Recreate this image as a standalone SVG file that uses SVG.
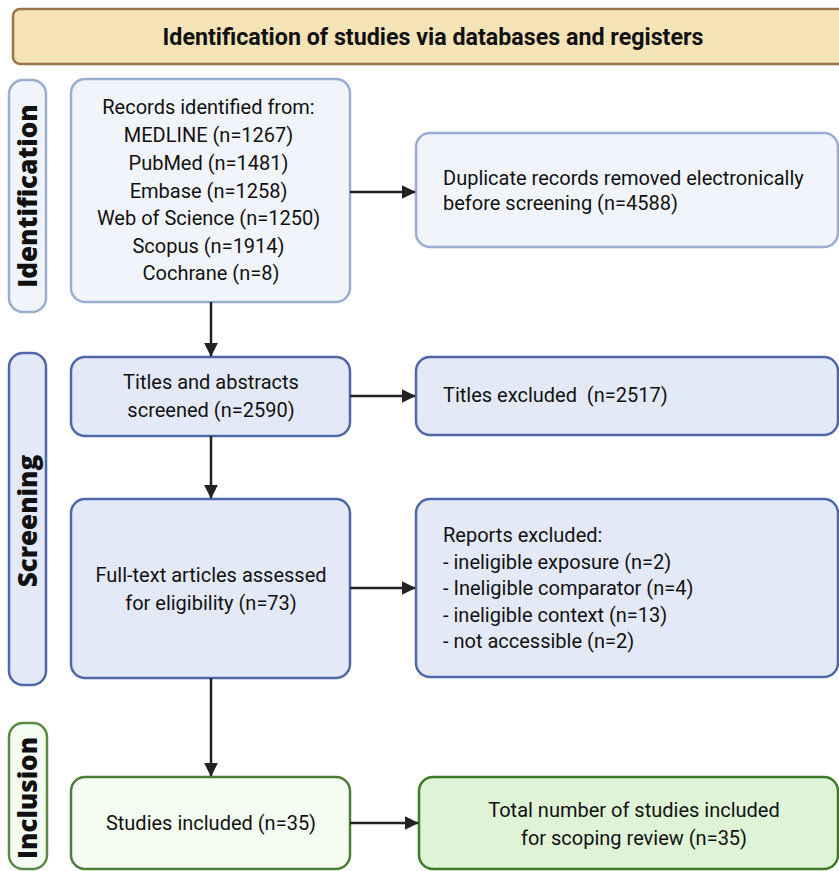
<svg xmlns="http://www.w3.org/2000/svg" width="839" height="871" viewBox="0 0 839 871">
<defs>
<marker id="ah" viewBox="0 0 10 10" refX="9.5" refY="5" markerWidth="5.5" markerHeight="5.5" orient="auto" markerUnits="strokeWidth">
<path d="M0,0 L10,5 L0,10 z" fill="#222"/>
</marker>
<style>
.t{font-family:Roboto,"Liberation Sans",sans-serif;font-size:20px;fill:#111}
.side{font-family:"Open Sans","Liberation Sans",sans-serif;font-weight:800;font-size:26px;fill:#111}
.idb{fill:#f1f5fb;stroke:#9aadd0;stroke-width:2.5}
.scb{fill:#e4e9f8;stroke:#5067aa;stroke-width:2.5}
.inl{fill:#f5fcf1;stroke:#5a8a45;stroke-width:2.5}
.con{stroke:#222;stroke-width:2.5;fill:none;marker-end:url(#ah)}
</style>
</defs>
<rect width="839" height="871" fill="#fff"/>
<g id="header">
<rect x="13" y="9" width="840" height="55" rx="7" fill="#f4e3b7" stroke="#9b7447" stroke-width="2.5"/>
<text x="433" y="45" text-anchor="middle" font-family="Roboto,'Liberation Sans',sans-serif" font-weight="bold" font-size="23" fill="#111" textLength="541" lengthAdjust="spacingAndGlyphs">Identification of studies via databases and registers</text>
</g>
<g id="label-identification">
<rect x="9" y="80" width="37" height="232" rx="14" class="idb"/>
<text class="side" transform="translate(37,196) rotate(-90)" text-anchor="middle">Identification</text>
</g>
<g id="label-screening">
<rect x="9" y="353" width="37" height="332" rx="14" class="scb"/>
<text class="side" transform="translate(37,521) rotate(-90)" text-anchor="middle">Screening</text>
</g>
<g id="label-inclusion">
<rect x="9" y="723" width="38" height="146" rx="14" class="inl"/>
<text class="side" transform="translate(37,798) rotate(-90)" text-anchor="middle">Inclusion</text>
</g>
<g id="records">
<rect x="71" y="79" width="279" height="223" rx="14" class="idb"/>
<text class="t" text-anchor="middle">
<tspan x="211" y="114">Records identified from:</tspan>
<tspan x="211" y="142">MEDLINE (n=1267)</tspan>
<tspan x="211" y="170">PubMed (n=1481)</tspan>
<tspan x="211" y="198">Embase (n=1258)</tspan>
<tspan x="211" y="225">Web of Science (n=1250)</tspan>
<tspan x="211" y="253">Scopus (n=1914)</tspan>
<tspan x="211" y="280">Cochrane (n=8)</tspan>
</text>
</g>
<g id="duplicates">
<rect x="416" y="133" width="422" height="114" rx="14" class="idb"/>
<text class="t"><tspan x="443" y="185">Duplicate records removed electronically</tspan><tspan x="443" y="210">before screening (n=4588)</tspan></text>
</g>
<g id="titles-screened">
<rect x="71" y="357" width="279" height="79" rx="14" class="scb"/>
<text class="t" text-anchor="middle"><tspan x="211" y="389">Titles and abstracts</tspan><tspan x="211" y="417">screened (n=2590)</tspan></text>
</g>
<g id="titles-excluded">
<rect x="416" y="357" width="422" height="78" rx="14" class="scb"/>
<text class="t" x="443" y="402" xml:space="preserve">Titles excluded  (n=2517)</text>
</g>
<g id="fulltext">
<rect x="71" y="499" width="279" height="179" rx="14" class="scb"/>
<text class="t" text-anchor="middle"><tspan x="211" y="582">Full-text articles assessed</tspan><tspan x="211" y="610">for eligibility (n=73)</tspan></text>
</g>
<g id="reports-excluded">
<rect x="416" y="499" width="422" height="178" rx="14" class="scb"/>
<text class="t"><tspan x="443" y="542">Reports excluded:</tspan><tspan x="443" y="569">- ineligible exposure (n=2)</tspan><tspan x="443" y="595">- Ineligible comparator (n=4)</tspan><tspan x="443" y="622">- ineligible context (n=13)</tspan><tspan x="443" y="648">- not accessible (n=2)</tspan></text>
</g>
<g id="studies-included">
<rect x="71" y="777" width="279" height="92" rx="14" fill="#f5fcf1" stroke="#4e7d3a" stroke-width="2.5"/>
<text class="t" x="211" y="830" text-anchor="middle">Studies included (n=35)</text>
</g>
<g id="total">
<rect x="419" y="777" width="419" height="92" rx="14" fill="#dff3d7" stroke="#3f7a28" stroke-width="2.5"/>
<text class="t" text-anchor="middle"><tspan x="634" y="817">Total number of studies included</tspan><tspan x="634" y="845">for scoping review (n=35)</tspan></text>
</g>
<g id="connectors">
<line x1="350" y1="192" x2="415" y2="192" class="con"/>
<line x1="211" y1="302" x2="211" y2="356" class="con"/>
<line x1="350" y1="396" x2="415" y2="396" class="con"/>
<line x1="211" y1="436" x2="211" y2="498" class="con"/>
<line x1="350" y1="588" x2="415" y2="588" class="con"/>
<line x1="211" y1="678" x2="211" y2="776" class="con"/>
<line x1="350" y1="823" x2="418" y2="823" class="con"/>
</g>
</svg>
